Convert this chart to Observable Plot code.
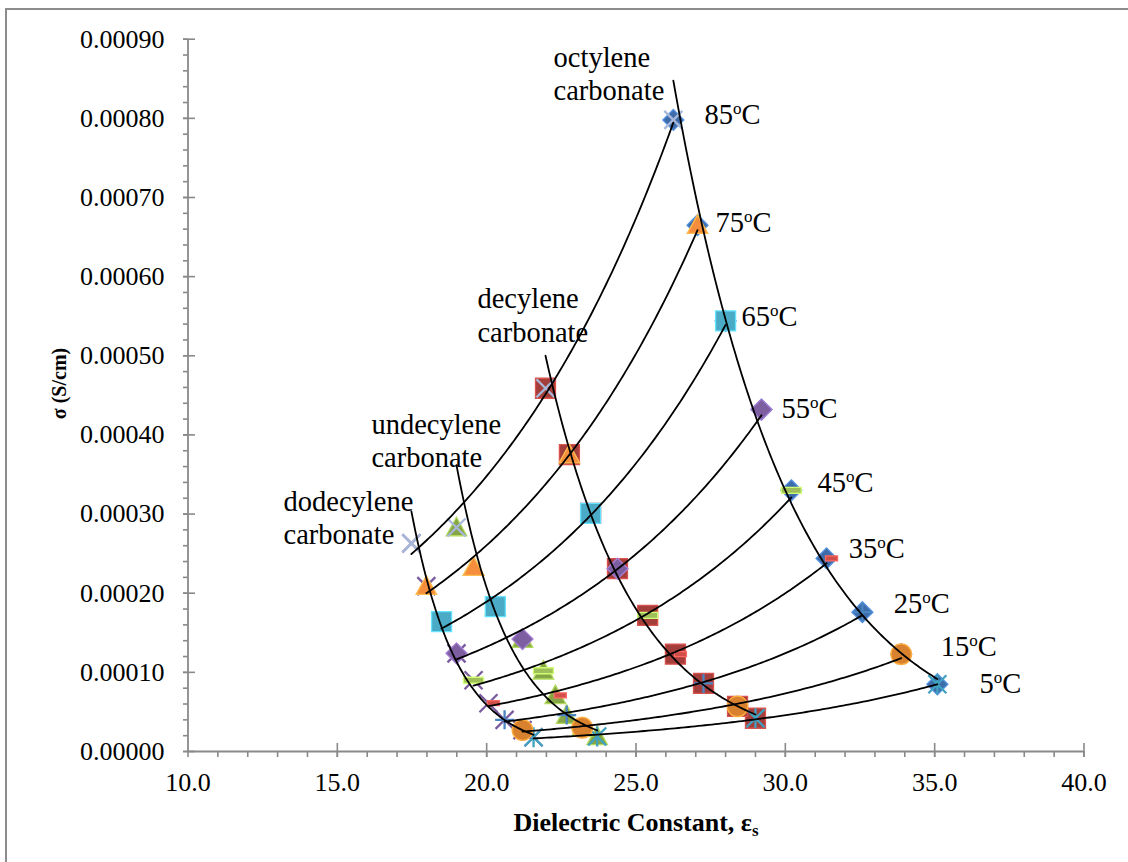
<!DOCTYPE html>
<html>
<head>
<meta charset="utf-8">
<script src="https://cdn.jsdelivr.net/npm/d3@7"></script>
<script src="https://cdn.jsdelivr.net/npm/@observablehq/plot@0.6"></script>
<style>
  html, body { margin: 0; padding: 0; background: #fff; }
  #chart { position: relative; width: 1128px; height: 862px; overflow: hidden; }
  #chart .edge { position: absolute; left: 5px; top: 8px; width: 1300px; height: 1000px;
    border-left: 2px solid #8c8c8c; border-top: 2px solid #8c8c8c; pointer-events: none; }
</style>
</head>
<body>
<div id="chart"><div class="edge"></div></div>
<script>
// ---- data -------------------------------------------------------------
const compounds = ["octylene", "decylene", "undecylene", "dodecylene"];
const temperatures = [5, 15, 25, 35, 45, 55, 65, 75, 85]; // °C

// static dielectric constant εs and conductivity σ (S/cm), by temperature
const epsOctylene   = [35.09, 33.88, 32.58, 31.38, 30.20, 29.20, 28.00, 27.06, 26.25];
const sigmaOctylene = [0.0000850, 0.000123, 0.000176, 0.000244, 0.000330, 0.000432, 0.000544, 0.000665, 0.000798];

const epsDecylene   = [29.00, 28.40, 27.26, 26.32, 25.39, 24.38, 23.48, 22.77, 21.97];
const sigmaDecylene = [0.0000420, 0.0000570, 0.0000860, 0.000123, 0.000172, 0.000231, 0.000301, 0.000375, 0.000459];

const epsUndecylene   = [23.70, 23.20, 22.68, 22.30, 21.90, 21.20, 20.29, 19.56, 18.99];
const sigmaUndecylene = [0.0000190, 0.0000300, 0.0000460, 0.0000710, 0.000102, 0.000142, 0.000183, 0.000233, 0.000283];

const epsDodecylene   = [21.57, 21.20, 20.60, 20.06, 19.56, 18.99, 18.49, 17.98, 17.48];
const sigmaDodecylene = [0.0000180, 0.0000270, 0.0000400, 0.0000610, 0.0000900, 0.000124, 0.000164, 0.000209, 0.000263];

// label anchors (start of text, baseline of last line)
const compoundLabelEps   = [22.24, 19.69, 16.14, 13.20];
const compoundLabelSigma = [0.000823, 0.000518, 0.000360, 0.000262];
const tempLabelEps   = [36.50, 35.20, 33.63, 32.12, 31.08, 29.87, 28.53, 27.66, 27.29];
const tempLabelSigma = [0.0000733, 0.000121, 0.000175, 0.000245, 0.000328, 0.000422, 0.000537, 0.000656, 0.000793];

// axis ticks
const xMajorTicks = [10, 15, 20, 25, 30, 35, 40];
const xMinorTicks = d3.range(10, 41, 1);
const yMajorTicks = [0, 0.0001, 0.0002, 0.0003, 0.0004, 0.0005, 0.0006, 0.0007, 0.0008, 0.0009];
const yMinorTicks = d3.range(0, 46).map(i => i * 0.00002);

// marker styles: one per compound (base), one per temperature (overlay)
const compoundShape = ["diamond", "square", "triangle", "times"];
const compoundColor = ["#3E6CA9", "#A43E3B", "#86A547", "#7A5B9E"];
const tempShape = ["asterisk", "circle", "plus", "shortDash", "dash", "diamond", "square", "triangle", "times"];
const tempColor = ["#3FA2C1", "#D8822F", "#4A85C3", "#D04E4A", "#9DBE58", "#7D5FA1", "#4BABC6", "#F58E3C", "#A8B8DA"];

// ---- assemble -----------------------------------------------------------
const epsByCompound = [epsOctylene, epsDecylene, epsUndecylene, epsDodecylene];
const sigmaByCompound = [sigmaOctylene, sigmaDecylene, sigmaUndecylene, sigmaDodecylene];

const points = [];
compounds.forEach((c, ci) => temperatures.forEach((t, ti) => {
  points.push({ci, ti, eps: epsByCompound[ci][ti], sigma: sigmaByCompound[ci][ti]});
}));

// exponential trend σ = A·exp(B·εs): least squares on ln σ,
// sampled over the εs range of the series
const curveRows = [];
const N = 120;
function addExpTrend(id, xs, ys) {
  const ls = ys.map(Math.log);
  const mx = d3.mean(xs), my = d3.mean(ls);
  let sxy = 0, sxx = 0;
  xs.forEach((x, i) => { sxy += (x - mx) * (ls[i] - my); sxx += (x - mx) ** 2; });
  const b = sxy / sxx, a = my - b * mx;
  const [e0, e1] = d3.extent(xs);
  for (let k = 0; k <= N; k++) {
    const e = e0 + (e1 - e0) * k / N;
    curveRows.push({id, eps: e, sigma: Math.exp(a + b * e)});
  }
}

// isotherms across the four carbonates
temperatures.forEach((t, ti) =>
  addExpTrend("T" + t, epsByCompound.map(e => e[ti]), sigmaByCompound.map(s => s[ti])));
// each carbonate across temperature
compounds.forEach((c, ci) => addExpTrend(c, epsByCompound[ci], sigmaByCompound[ci]));

// ---- marker glyphs ------------------------------------------------------
const half = size => Math.sqrt(size / Math.PI);
const glyphs = {
  diamond: {filled: true, draw(c, s) { const h = half(s) * 1.05; c.moveTo(0, -h); c.lineTo(h, 0); c.lineTo(0, h); c.lineTo(-h, 0); c.closePath(); }},
  square: {filled: true, draw(c, s) { const h = half(s); c.rect(-h, -h, 2 * h, 2 * h); }},
  triangle: {filled: true, draw(c, s) { const h = half(s) * 1.03; c.moveTo(0, -h); c.lineTo(h, 0.8 * h); c.lineTo(-h, 0.8 * h); c.closePath(); }},
  circle: {filled: true, draw(c, s) { const h = half(s) * 1.03; c.moveTo(h, 0); c.arc(0, 0, h, 0, 2 * Math.PI); }},
  dash: {filled: true, draw(c, s) { const h = half(s); c.rect(-h, -3, 2 * h, 6); }},
  shortDash: {filled: true, draw(c, s) { const h = half(s); c.rect(-0.1 * h, -2.5, 1.2 * h, 5); }},
  times: {filled: false, draw(c, s) { const h = half(s) * 0.9; c.moveTo(-h, -h); c.lineTo(h, h); c.moveTo(h, -h); c.lineTo(-h, h); }},
  asterisk: {filled: false, draw(c, s) { const h = half(s) * 0.9, v = half(s); c.moveTo(-h, -h); c.lineTo(h, h); c.moveTo(h, -h); c.lineTo(-h, h); c.moveTo(0, -v); c.lineTo(0, v); }},
  plus: {filled: false, draw(c, s) { const h = half(s) * 0.95; c.moveTo(-h, 0); c.lineTo(h, 0); c.moveTo(0, -h); c.lineTo(0, h); }}
};

function markerMark(data, shape, color) {
  const g = glyphs[shape];
  return g.filled
    ? Plot.dot(data, {x: "eps", y: "sigma", r: 10, symbol: g, fill: color,
        stroke: d3.color(color).brighter(0.8).formatHex(), strokeWidth: 1.3})
    : Plot.dot(data, {x: "eps", y: "sigma", r: 10, symbol: g, fill: "none",
        stroke: color, strokeWidth: 2.3});
}

const baseMarkers = compounds.map((c, ci) =>
  markerMark(points.filter(p => p.ci === ci), compoundShape[ci], compoundColor[ci]));
const overlayMarkers = temperatures.map((t, ti) =>
  markerMark(points.filter(p => p.ti === ti), tempShape[ti], tempColor[ti]));

const compoundLabels = compounds.map((c, ci) =>
  ({eps: compoundLabelEps[ci], sigma: compoundLabelSigma[ci], text: c + "\ncarbonate"}));
const tempLabels = temperatures.map((t, ti) =>
  ({eps: tempLabelEps[ti], sigma: tempLabelSigma[ti], text: t + "oC"}));

const axisGray = "#898989";

const chart = Plot.plot({
  width: 1128,
  height: 862,
  marginLeft: 187.5,
  marginRight: 44.5,
  marginTop: 38.7,
  marginBottom: 111,
  style: {fontFamily: "'Liberation Serif', 'Times New Roman', serif", fontSize: "26px", color: "#000", background: "transparent"},
  x: {domain: [10, 40], label: null},
  y: {domain: [0, 0.0009], label: null},
  marks: [
    // axis lines and tick marks
    Plot.ruleX([10], {x: d => d, y1: 0, y2: 0.0009, stroke: axisGray, strokeWidth: 1.8}),
    Plot.ruleY([0], {y: d => d, x1: 10, x2: 40, stroke: axisGray, strokeWidth: 1.8}),
    Plot.ruleX(xMinorTicks, {x: d => d, y1: 0, y2: 0, insetBottom: -6, stroke: axisGray, strokeWidth: 1.6}),
    Plot.ruleX(xMajorTicks.slice(1), {x: d => d, y1: 0, y2: 0, insetTop: -8, insetBottom: -6, stroke: axisGray, strokeWidth: 1.6}),
    Plot.ruleY(yMinorTicks, {y: d => d, x1: 10, x2: 10, insetLeft: -4.5, stroke: axisGray, strokeWidth: 1.6}),
    Plot.ruleY(yMajorTicks, {y: d => d, x1: 10, x2: 10, insetLeft: -4.5, insetRight: -7.5, stroke: axisGray, strokeWidth: 1.6}),
    Plot.axisX({ticks: xMajorTicks, tickSize: 0, tickPadding: 21.5, tickFormat: d3.format(".1f"), fontSize: 26, label: null}),
    Plot.axisY({ticks: yMajorTicks, tickSize: 0, tickPadding: 23.5, tickFormat: d3.format(".5f"), fontSize: 26, label: null}),

    // measured points
    ...baseMarkers,
    ...overlayMarkers,

    // trend curves
    Plot.line(curveRows, {x: "eps", y: "sigma", z: "id", stroke: "#000", strokeWidth: 1.8, curve: "linear"}),

    // annotations
    Plot.text(compoundLabels, {x: "eps", y: "sigma", text: "text", textAnchor: "start", lineAnchor: "bottom", lineHeight: 1.16, fontSize: 28.5, fill: "#000"}),
    Plot.text(tempLabels, {x: "eps", y: "sigma", text: "text", textAnchor: "start", lineAnchor: "bottom", fontSize: 28.5, fill: "#000"}),

    // axis titles
    Plot.text([{eps: 25, sigma: -0.0000999, text: "Dielectric Constant, εs"}], {x: "eps", y: "sigma", text: "text", lineAnchor: "bottom", fontWeight: "bold", fontSize: 26, fill: "#000"}),
    Plot.text([{eps: 5.93, sigma: 0.000465, text: "σ (S/cm)"}], {x: "eps", y: "sigma", text: "text", rotate: -90, lineAnchor: "bottom", fontWeight: "bold", fontSize: 20, fill: "#000"})
  ]
});

// superscript "o" in temperature labels, subscript "s" in the x title
d3.select(chart).selectAll("text").each(function() {
  const s = this.textContent;
  let m = /^(\d+)oC$/.exec(s);
  if (m) {
    const el = d3.select(this);
    el.text("");
    el.append("tspan").text(m[1]);
    el.append("tspan").attr("font-size", 17).attr("dy", -10).text("o");
    el.append("tspan").attr("dy", 10).text("C");
  } else if (s === "Dielectric Constant, εs") {
    const el = d3.select(this);
    el.text("");
    el.append("tspan").text("Dielectric Constant, ε");
    el.append("tspan").attr("font-size", 17).attr("dy", 5).text("s");
  }
});

document.getElementById("chart").appendChild(chart);
</script>
</body>
</html>
